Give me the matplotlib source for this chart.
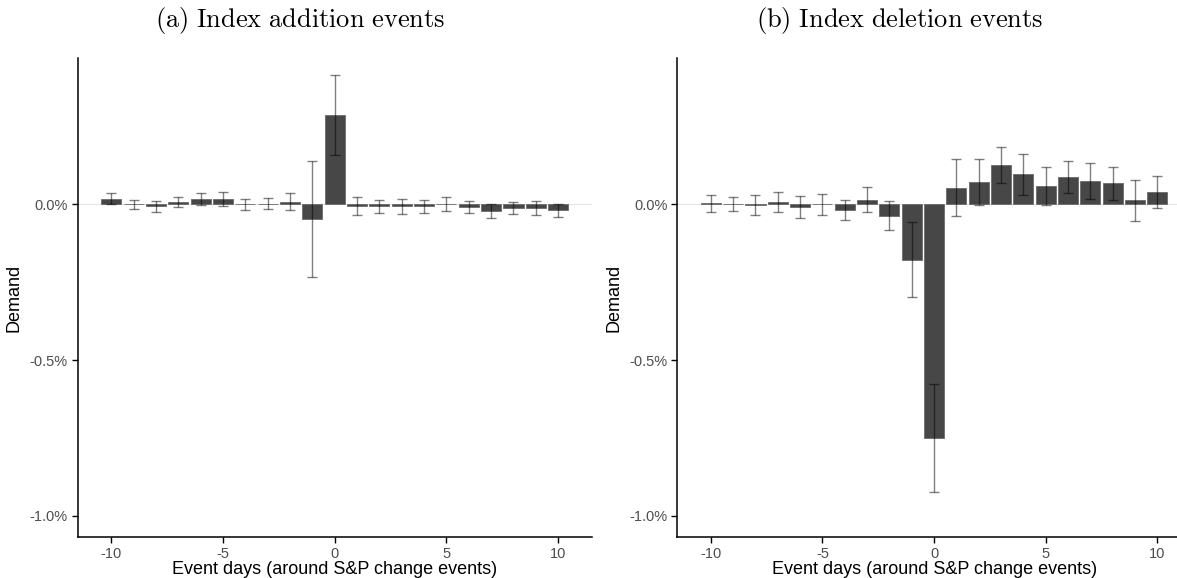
import matplotlib
matplotlib.use("Agg")
import matplotlib.pyplot as plt
import numpy as np
from matplotlib.ticker import FuncFormatter

# Event-study coefficients (in percent) and 95% CI half-widths
days = list(range(-10, 11))
add_coef = [0.018, 0.000, -0.006, 0.009, 0.017, 0.017, 0.000, 0.003, 0.009, -0.047,
            0.287, -0.006, -0.005, -0.006, -0.006, 0.002, -0.009, -0.021, -0.012,
            -0.011, -0.018]
add_ci = [0.018, 0.016, 0.018, 0.016, 0.019, 0.022, 0.019, 0.018, 0.028, 0.187,
          0.128, 0.029, 0.021, 0.025, 0.020, 0.022, 0.019, 0.024, 0.019, 0.023, 0.021]
del_coef = [0.004, 0.002, -0.002, 0.007, -0.008, 0.000, -0.018, 0.015, -0.036, -0.177,
            -0.751, 0.054, 0.072, 0.127, 0.097, 0.059, 0.089, 0.075, 0.068, 0.013,
            0.040]
del_ci = [0.027, 0.022, 0.032, 0.032, 0.034, 0.033, 0.032, 0.040, 0.046, 0.120,
          0.173, 0.092, 0.073, 0.059, 0.065, 0.062, 0.051, 0.058, 0.053, 0.065, 0.051]
titles = ["(a) Index addition events", "(b) Index deletion events"]
xlabel = "Event days (around S&P change events)"
ylabel = "Demand"

W, H = 1177, 578
plt.rcParams["font.family"] = ["Liberation Sans", "DejaVu Sans"]
plt.rcParams["mathtext.fontset"] = "cm"
plt.rcParams["axes.unicode_minus"] = False

fig = plt.figure(figsize=(W / 100, H / 100), dpi=100)

# axes boxes in pixels: left, top, width, bottom
boxes = [(77.7, 58.3, 514.0, 537.3), (677.3, 58.3, 513.6, 537.3)]
title_x = [300, 900]


def draw(ax, coef, ci):
    ax.axhline(0, color="#e6e6e6", lw=0.8, zorder=0)
    ax.bar(days, coef, width=0.9, color="#474747", edgecolor="#6a6a6a",
           linewidth=0.6, zorder=2)
    ax.errorbar(days, coef, yerr=ci, fmt="none", ecolor="black", alpha=0.5,
                elinewidth=1.0, capsize=3.6, capthick=1.0, zorder=3)
    ax.set_xlim(-11.5, 11.5)
    ax.set_ylim(-1.07, 0.47)
    ax.set_xticks([-10, -5, 0, 5, 10])
    ax.set_yticks([-1.0, -0.5, 0.0])
    ax.yaxis.set_major_formatter(FuncFormatter(lambda v, p: f"{v:.1f}%"))
    for s in ("top", "right"):
        ax.spines[s].set_visible(False)
    for s in ("left", "bottom"):
        ax.spines[s].set_linewidth(1.1)
    ax.tick_params(length=4, width=1.0, color="black", labelsize=10.5,
                   labelcolor="#4d4d4d", pad=3)
    ax.set_xlabel(xlabel, fontsize=13, labelpad=0)
    ax.set_ylabel(ylabel, fontsize=13, labelpad=5)


for (l, t, w, b), coef, ci, tt, tx in zip(boxes, [add_coef, del_coef],
                                           [add_ci, del_ci], titles, title_x):
    ax = fig.add_axes([l / W, 1 - b / H, w / W, (b - t) / H])
    draw(ax, coef, ci)
    fig.text(tx / W, 1 - 21 / H, r"$\mathrm{" + tt.replace(" ", r"\ ") + "}$",
             ha="center", va="center", fontsize=19)

fig.savefig("out.png", dpi=100)
